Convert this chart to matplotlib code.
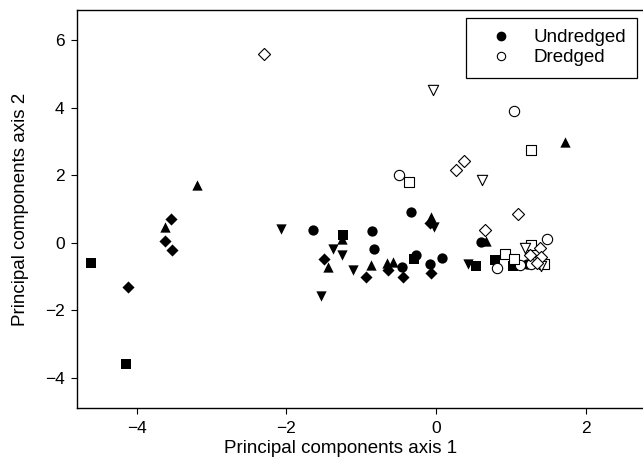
import matplotlib
matplotlib.use("Agg")
import matplotlib.pyplot as plt
from matplotlib.lines import Line2D

plt.rcParams['font.family'] = ['Liberation Sans', 'DejaVu Sans']

# ---- Undredged sites (filled markers) ----
und_circle_x = [-1.64, -0.85, -0.83, -0.45, -0.33, -0.27, -0.08, 0.08, 0.60, 1.21]
und_circle_y = [0.37, 0.34, -0.19, -0.72, 0.92, -0.37, -0.62, -0.45, 0.01, -0.63]

und_square_x = [-4.61, -4.14, -1.25, -0.30, 0.54, 0.79, 1.03]
und_square_y = [-0.60, -3.60, 0.24, -0.48, -0.68, -0.50, -0.70]

und_tri_up_x = [-3.62, -3.20, -1.26, -1.44, -0.87, -0.65, -0.58, -0.07, 0.67, 1.72]
und_tri_up_y = [0.47, 1.72, 0.10, -0.72, -0.66, -0.60, -0.57, 0.76, 0.04, 2.99]

und_tri_down_x = [-2.07, -1.38, -1.26, -1.54, -1.11, -0.03, 0.43]
und_tri_down_y = [0.42, -0.19, -0.36, -1.59, -0.80, 0.48, -0.62]

und_diamond_x = [-4.12, -3.55, -3.63, -3.53, -1.50, -0.94, -0.64, -0.44, -0.08, -0.07]
und_diamond_y = [-1.30, 0.71, 0.04, -0.21, -0.47, -1.02, -0.80, -1.02, 0.58, -0.90]

# ---- Dredged sites (open markers) ----
dr_circle_x = [-0.50, 1.04, 0.81, 1.12, 1.27, 1.48]
dr_circle_y = [2.00, 3.90, -0.75, -0.65, -0.63, 0.12]

dr_square_x = [-0.36, 1.27, 0.92, 1.04, 1.27, 1.45]
dr_square_y = [1.79, 2.76, -0.34, -0.48, -0.06, -0.63]

dr_tri_down_x = [-0.04, 0.61, 1.19, 1.41]
dr_tri_down_y = [4.52, 1.85, -0.16, -0.70]

dr_diamond_x = [-2.30, 0.27, 0.38, 0.66, 1.09, 1.25, 1.39, 1.41, 1.35]
dr_diamond_y = [5.60, 2.15, 2.43, 0.37, 0.86, -0.36, -0.16, -0.41, -0.60]

fig = plt.figure(figsize=(6.43, 4.73), dpi=100)
ax = fig.add_axes([0.1198, 0.1374, 0.884, 0.8415])

filled = dict(color="black", linewidths=0, zorder=3)
opened = dict(facecolors="white", edgecolors="black", linewidths=0.8, zorder=3)

ax.scatter(und_circle_x, und_circle_y, marker="o", s=55, **filled)
ax.scatter(und_square_x, und_square_y, marker="s", s=48, **filled)
ax.scatter(und_tri_up_x, und_tri_up_y, marker="^", s=55, **filled)
ax.scatter(und_tri_down_x, und_tri_down_y, marker="v", s=55, **filled)
ax.scatter(und_diamond_x, und_diamond_y, marker="D", s=38, **filled)

ax.scatter(dr_circle_x, dr_circle_y, marker="o", s=55, **opened)
ax.scatter(dr_square_x, dr_square_y, marker="s", s=48, **opened)
ax.scatter(dr_tri_down_x, dr_tri_down_y, marker="v", s=55, **opened)
ax.scatter(dr_diamond_x, dr_diamond_y, marker="D", s=38, **opened)

ax.set_xlim(-4.8, 2.8)
ax.set_ylim(-4.9, 6.9)
ax.set_xticks([-4, -2, 0, 2])
ax.set_yticks([-4, -2, 0, 2, 4, 6])
ax.tick_params(direction="out", length=4, width=0.8, labelsize=12.5, pad=5)
for sp in ax.spines.values():
    sp.set_linewidth(1.0)

ax.set_xlabel("Principal components axis 1", fontsize=13.5)
ax.set_ylabel("Principal components axis 2", fontsize=13.5)
ax.xaxis.set_label_coords(0.463, -0.08)
ax.yaxis.set_label_coords(-0.085, 0.5)

handles = [
    Line2D([], [], marker="o", linestyle="none", markersize=6,
           markerfacecolor="black", markeredgecolor="black"),
    Line2D([], [], marker="o", linestyle="none", markersize=6,
           markerfacecolor="white", markeredgecolor="black", markeredgewidth=0.8),
]
leg = fig.legend(handles, ["Undredged", "Dredged"], loc="upper right",
                 bbox_to_anchor=(637 / 643, 1 - 18 / 473), fontsize=13.5,
                 frameon=True, fancybox=False, framealpha=1, edgecolor="black",
                 borderpad=0.6, labelspacing=0.15, handletextpad=0.48,
                 borderaxespad=0, handlelength=2.5)
leg.get_frame().set_linewidth(0.9)

fig.savefig("out.png", dpi=100)
